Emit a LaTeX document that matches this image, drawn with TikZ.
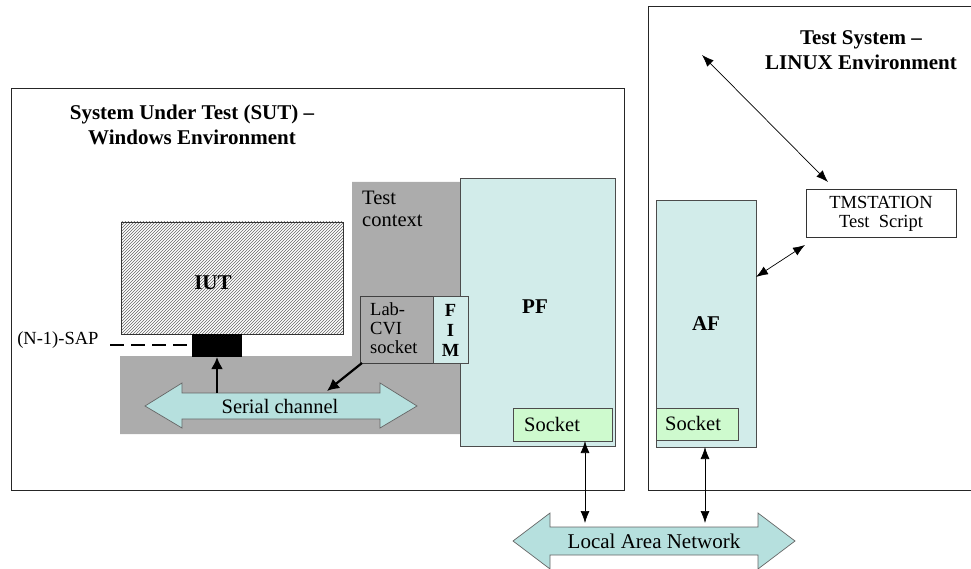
\documentclass[tikz,border=0pt]{standalone}
\usepackage{fontspec}
\setmainfont{Liberation Serif}
\usetikzlibrary{arrows.meta,patterns}
\definecolor{ctxgray}{RGB}{172,172,172}
\definecolor{dotcyan}{RGB}{210,236,234}
\definecolor{hatchcyan}{RGB}{182,224,222}
\definecolor{sockgreen}{RGB}{206,250,206}
\begin{document}
\begin{tikzpicture}[x=1pt,y=-1pt,
  frame/.style={draw=black!85,line width=0.8pt},
  blk/.style={rectangle,inner sep=0pt,outer sep=0pt,anchor=north west},
  dotbox/.style={blk,draw=black!70,line width=0.7pt,fill=dotcyan},
  sockbox/.style={blk,draw=black!70,line width=0.7pt,fill=sockgreen},
  title/.style={font=\bfseries\fontsize{21}{25}\selectfont,align=center},
  lbl/.style={font=\fontsize{20.5}{22}\selectfont},
  blbl/.style={font=\bfseries\fontsize{21}{24}\selectfont},
  slbl/.style={font=\fontsize{18.5}{19}\selectfont},
  thin/.style={line width=0.7pt,{Latex[length=12pt,width=9pt]}-{Latex[length=12pt,width=9pt]}},
  thick/.style={line width=2.2pt,-{Latex[length=12pt,width=12pt]}},
  bigarrow/.style={draw=black!60,line width=0.7pt,fill=hatchcyan}
]
\useasboundingbox (0,0) rectangle (971,569);
% environment frames
\draw[frame] (11,88) rectangle (624,490);
\draw[frame] (980,6) -- (648,6) -- (648,490) -- (980,490);
\node[title] (suttitle) at (192,125) {System Under Test (SUT) --\\Windows Environment};
\node[title] (tstitle) at (861,50) {Test System --\\LINUX Environment};
% test context
\fill[ctxgray] (352,182) -- (462,182) -- (462,434) -- (120,434) -- (120,356) -- (352,356) -- cycle;
\node[lbl,anchor=base west,inner sep=0pt] (ctx) at (362,205) {Test};
\node[lbl,anchor=base west,inner sep=0pt] (ctx2) at (362,227) {context};
% IUT
\node[blk,draw=black!80,line width=0.7pt,fill=white,minimum width=222,minimum height=112] (iutbg) at (121,222) {};
\fill[pattern=north east lines,pattern color=black!60] (121,222) rectangle (343,334);
\draw[black!80,line width=0.7pt] (121,222) rectangle (343,334);
\node[blbl] (iut) at (213,283) {IUT};
\node[blk,fill=black,minimum width=50,minimum height=23] (sap) at (192,334) {};
\node[slbl,anchor=east] (saplbl) at (102,340) {(N-1)-SAP};
\draw[line width=2pt,dash pattern=on 14pt off 7pt] (110,345) -- (sap.west|-0,345);
% serial channel
\path[bigarrow] (145,406) -- (182,383) -- (182,393) -- (380,393) -- (380,383) -- (417,406)
  -- (380,428) -- (380,419) -- (182,419) -- (182,428) -- cycle;
\node[lbl] (serial) at (280,406) {Serial channel};
\coordinate (serialtop) at (217,393);
\draw[thick] (serialtop) -- (sap.south-|serialtop);
% PF
\node[dotbox,minimum width=155,minimum height=268] (pf) at (460,178) {};
\node[blbl] (pflbl) at (535,307) {PF};
\node[sockbox,minimum width=99,minimum height=33] (pfsock) at (513,408) {};
\node[lbl,anchor=base west,inner sep=0pt] at (524,431) {Socket};
% Lab-CVI socket + FIM
\node[blk,draw=black!75,line width=0.7pt,fill=ctxgray,minimum width=73,minimum height=67] (lab) at (360,296) {};
\node[slbl,anchor=base west,inner sep=0pt] (lab1) at (370,315) {Lab-};
\node[slbl,anchor=base west,inner sep=0pt] (lab2) at (370,334) {CVI};
\node[slbl,anchor=base west,inner sep=0pt] (lab3) at (370,353) {socket};
\node[dotbox,minimum width=35,minimum height=67] (fim) at (433,296) {};
\node[font=\bfseries\fontsize{18.5}{20}\selectfont,align=center,inner sep=0pt] at (450.5,330) {F\\I\\M};
\coordinate (serialmid) at (327,391);
\draw[thick] (lab.south west) ++(2,0) -- (serialmid);
% AF
\node[dotbox,minimum width=100,minimum height=247] (af) at (656,200) {};
\node[blbl] (aflbl) at (706,324) {AF};
\node[sockbox,minimum width=82,minimum height=32] (afsock) at (656,408) {};
\node[lbl,anchor=base west,inner sep=0pt] at (665,430) {Socket};
% TMSTATION
\node[blk,draw=black!80,line width=0.7pt,fill=white,minimum width=150,minimum height=48] (tm) at (806,189) {};
\node[slbl,align=center] at (881,214) {TMSTATION\\Test\ \ Script};
\coordinate (upfree) at (702,55);
\draw[thin] (upfree) -- (828,182);
\draw[thin] (805,245) -- (af.east|-0,277);
% LAN
\path[bigarrow] (513,541) -- (550,513) -- (550,527) -- (758,527) -- (758,513) -- (795,541)
  -- (758,569) -- (758,555) -- (550,555) -- (550,569) -- cycle;
\node[font=\fontsize{21}{24}\selectfont] (lan) at (654,541) {Local Area Network};
\coordinate (lanA) at (585,523);
\coordinate (lanB) at (705,523);
\draw[thin] (pfsock.south-|lanA) -- (lanA);
\draw[thin] (af.south-|lanB) -- (lanB);
\end{tikzpicture}
\end{document}
